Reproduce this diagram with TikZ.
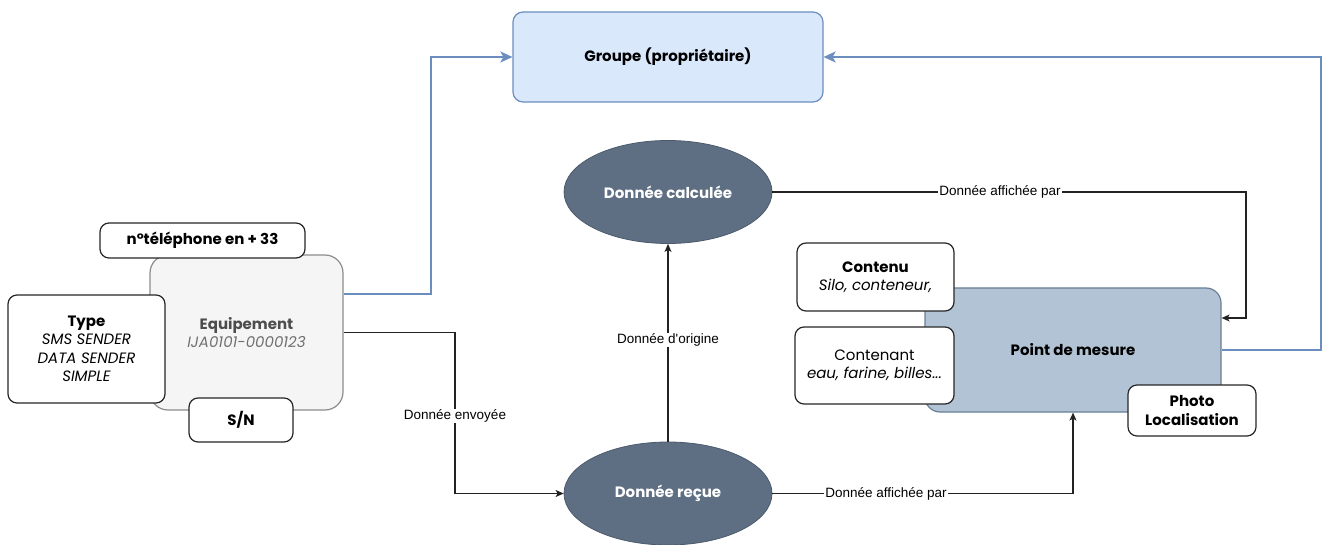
\documentclass[tikz,border=0pt]{standalone}
\usepackage{fontspec}
\setmainfont{Poppins}
\newfontfamily\lblfont{Liberation Sans}
\usetikzlibrary{arrows.meta,shapes.geometric}
\definecolor{grpfill}{HTML}{DAE8FC}
\definecolor{grpline}{HTML}{6C8EBF}
\definecolor{eqfill}{HTML}{F5F5F5}
\definecolor{eqline}{HTML}{8C8C8C}
\definecolor{eqtext}{HTML}{4D4D4D}
\definecolor{eqital}{HTML}{707070}
\definecolor{pdmfill}{HTML}{B1C3D4}
\definecolor{pdmline}{HTML}{6A7F95}
\definecolor{ellfill}{HTML}{5E6F84}
\definecolor{ellline}{HTML}{4C5A6B}
\definecolor{bluecon}{HTML}{6C8EBF}
\definecolor{blackcon}{HTML}{222222}
\begin{document}
\begin{tikzpicture}[x=1pt,y=-1pt,
  nodefont/.style={font=\fontsize{15}{18.5}\selectfont},
  whitebox/.style={draw=black!85, fill=white, line width=1.2pt, rounded corners=9pt,
    align=center, inner sep=0pt, nodefont},
  groupbox/.style={draw=grpline, fill=grpfill, line width=1.2pt, rounded corners=10pt,
    align=center, inner sep=0pt, nodefont},
  equipbox/.style={draw=eqline, fill=eqfill, line width=1.2pt, rounded corners=18pt,
    align=center, inner sep=0pt, nodefont},
  pdmbox/.style={draw=pdmline, fill=pdmfill, line width=1.2pt, rounded corners=15pt,
    align=center, inner sep=0pt, nodefont},
  dataell/.style={ellipse, draw=ellline, fill=ellfill, line width=0.8pt, inner sep=0pt,
    minimum width=208pt, minimum height=103pt, text=white, align=center, nodefont},
  blueline/.style={draw=bluecon, line width=2pt, -{Stealth[length=12pt,width=11pt,inset=3pt]}},
  blackline/.style={draw=blackcon, line width=1.2pt, -{Stealth[length=8pt,width=7pt,inset=2pt]}},
  edgelbl/.style={fill=white, inner sep=1pt, font=\lblfont\fontsize{13.5}{15}\selectfont}
]
\useasboundingbox (0,0) rectangle (1323,545);

% main nodes
\node[groupbox, minimum width=310pt, minimum height=90pt] (grp) at (668,57) {\textbf{Groupe (propriétaire)}};

\node[equipbox, minimum width=193pt, minimum height=155pt] (equip) at (246.5,332.5)
  {\textcolor{eqtext}{\textbf{Equipement}}\\\textcolor{eqital}{\textit{IJA0101-0000123}}};
\node[whitebox, minimum width=205pt, minimum height=35pt] (tel) at (202.5,240.5) {\textbf{n°téléphone en + 33}};
\node[whitebox, minimum width=157pt, minimum height=108pt] (type) at (86.5,349)
  {\textbf{Type}\\\textit{SMS SENDER}\\\textit{DATA SENDER}\\\textit{SIMPLE}};
\node[whitebox, minimum width=104pt, minimum height=44pt] (sn) at (241,420) {\textbf{S/N}};

\node[dataell] (calc) at (668,192) {\textbf{Donnée calculée}};
\node[dataell] (recue) at (668,493.5) {\textbf{Donnée reçue}};

\node[pdmbox, minimum width=296pt, minimum height=124pt] (pdm) at (1073,350) {\textbf{Point de mesure}};
\node[whitebox, minimum width=157pt, minimum height=68pt] (contenu) at (875.5,277)
  {\textbf{Contenu}\\\textit{Silo, conteneur,}};
\node[whitebox, minimum width=159pt, minimum height=77pt] (contenant) at (874.5,365.5)
  {Contenant\\\textit{eau, farine, billes...}};
\node[whitebox, minimum width=128pt, minimum height=51pt] (photo) at (1192,410.5)
  {\textbf{Photo}\\\textbf{Localisation}};

% bend points
\coordinate (lb) at (431,57);
\coordinate (rb) at (1321,57);
\coordinate (ev) at (455,493.5);
\coordinate (tr) at (1246,192);

% blue connectors
\draw[blueline] ([yshift=38.5pt]equip.east) -| (lb) -- (grp.west);
\draw[blueline] (pdm.east) -| (rb) -- (grp.east);

% black connectors
\draw[blackline] (equip.east) -| (ev) -- (recue.west);
\draw[blackline] (recue.north) -- (calc.south);
\draw[blackline] (calc.east) -| (tr) |- ([yshift=32pt]pdm.east);
\draw[blackline] (recue.east) -| (pdm.south);

% edge labels
\node[edgelbl] (lenv) at (455,416) {Donnée envoyée};
\node[edgelbl] (lorig) at (668,340) {Donnée d'origine};
\node[edgelbl] (laff1) at (1000,192) {Donnée affichée par};
\node[edgelbl] (laff2) at (886,493.5) {Donnée affichée par};
\end{tikzpicture}
\end{document}
